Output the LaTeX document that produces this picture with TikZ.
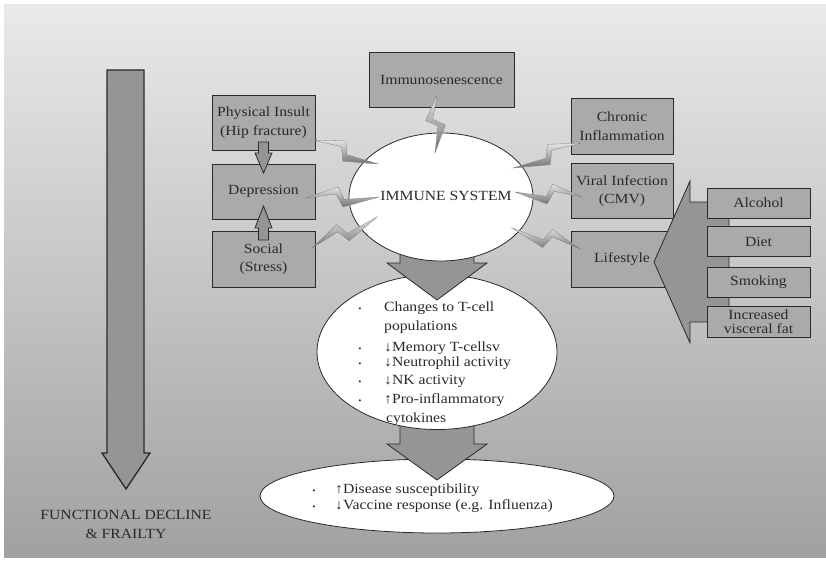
\documentclass[tikz,border=0pt]{standalone}
\usepackage{fontspec}
\setmainfont{Liberation Serif}[FakeStretch=1.12]
\usetikzlibrary{shapes.geometric,calc}
\definecolor{bgtop}{HTML}{E8E9EA}
\definecolor{bgbot}{HTML}{A0A1A3}
\definecolor{boxfill}{HTML}{A9AAAC}
\definecolor{arrfill}{HTML}{949597}
\definecolor{txt}{HTML}{2A2A2A}
\definecolor{edge}{HTML}{2A2A2A}
\newcommand{\fsz}{\fontsize{14}{18.5}\selectfont}
\newcommand{\zbolt}[4]{%
  \path[bolt] (#1) -- ($(#1)!0.45!(#2)!10.5pt!#3:(#2)$) -- ($(#1)!0.53!(#2)!2pt!#4:(#2)$) -- (#2) -- ($(#1)!0.51!(#2)!9.5pt!#4:(#2)$) -- ($(#1)!0.42!(#2)!3.5pt!#3:(#2)$) -- cycle;}
\tikzset{
  bolt/.style={draw=black!50, line width=0.3pt, top color=black!10, bottom color=black!55},
  box/.style={draw=edge, line width=0.8pt, fill=boxfill, inner sep=0pt, align=center, text=txt, font=\fsz},
  ell/.style={ellipse, draw=edge, line width=0.8pt, fill=white, inner sep=0pt},
  blk/.style={draw=edge, line width=0.8pt, fill=arrfill, line join=miter},
  lbl/.style={text=txt, font=\fsz, inner sep=0pt},
  item/.style={lbl, anchor=base west},
  dot/.style={text=txt, inner sep=0pt, anchor=base, font=\fontsize{8}{8}\selectfont},
}
\begin{document}
\begin{tikzpicture}[x=1pt,y=-1pt]
\useasboundingbox (0,0) rectangle (826,564);
\fill[white] (0,0) rectangle (826,564);
\shade[top color=bgtop, bottom color=bgbot] (4,5) rectangle (826,557);

% left big arrow
\path[blk, line width=1.3pt] (107,70) -- (144,70) -- (144,453) -- (150,453) -- (126,489) -- (102,453) -- (107,453) -- cycle;
\node[lbl, align=center, font=\fontsize{14}{19}\selectfont] (fd) at (126,524) {FUNCTIONAL DECLINE\\\& FRAILTY};

% boxes
\node[box, minimum width=145pt, minimum height=55pt] (isen) at (441.5,80) {Immunosenescence};
\node[box, minimum width=103pt, minimum height=55pt] (phys) at (263.5,122.5) {Physical Insult\\(Hip fracture)};
\node[box, minimum width=103pt, minimum height=55pt] (dep) at (263.5,191.5) {Depression};
\node[box, minimum width=103pt, minimum height=56pt] (soc) at (263.5,259) {Social\\(Stress)};
\node[box, minimum width=102pt, minimum height=56pt] (chron) at (622,126) {Chronic\\Inflammation};
\node[box, minimum width=102pt, minimum height=55pt] (vir) at (622,191) {Viral Infection\\(CMV)};
\node[box, minimum width=102pt, minimum height=56pt] (life) at (622,259) {Lifestyle};

% lifestyle arrow
\path[blk] (654,262) -- (690,181) -- (690,202) -- (729,202) -- (729,322) -- (690,322) -- (690,343) -- cycle;
\node[box, minimum width=103pt, minimum height=30pt] (alc) at (758.5,203) {Alcohol};
\node[box, minimum width=103pt, minimum height=30pt] (diet) at (758.5,241.5) {Diet};
\node[box, minimum width=103pt, minimum height=30pt] (smok) at (758.5,282) {Smoking};
\node[box, minimum width=103pt, minimum height=31pt, font=\fontsize{14}{14.5}\selectfont] (fat) at (758.5,321.5) {Increased\\visceral fat};

% small arrows
\path[blk] (258.5,142) -- (268.5,142) -- (268.5,153) -- (272,153) -- (263.5,173) -- (255,153) -- (258.5,153) -- cycle;
\path[blk] (258.5,240) -- (268.5,240) -- (268.5,228) -- (272,228) -- (263.5,206) -- (255,228) -- (258.5,228) -- cycle;

% ellipses and big down arrows
\node[ell, minimum width=354pt, minimum height=74pt] (dis) at (437,496) {};
\path[blk] (400,410) -- (400,444) -- (387,444) -- (437,480) -- (487,444) -- (474,444) -- (474,410) -- cycle;
\node[ell, minimum width=240pt, minimum height=155pt] (chg) at (437,352) {};
\path[blk] (400,240) -- (400,263) -- (387,263) -- (437,300) -- (487,263) -- (474,263) -- (474,240) -- cycle;
\node[ell, minimum width=184pt, minimum height=128pt] (imm) at (441,197) {};
\node[lbl] (immtxt) at (446,196) {IMMUNE SYSTEM};

% list in changes ellipse
\node[dot] (d1) at (360,311) {•};
\node[item] (c1) at (384,311) {Changes to T-cell};
\node[item] (c2) at (384,330) {populations};
\node[dot] (d3) at (360,351) {•};
\node[item] (c3) at (384,351) {↓Memory T-cellsv};
\node[dot] (d4) at (360,366) {•};
\node[item] (c4) at (384,366) {↓Neutrophil activity};
\node[dot] (d5) at (360,384) {•};
\node[item] (c5) at (384,384) {↓NK activity};
\node[dot] (d6) at (360,403) {•};
\node[item] (c6) at (384,403) {↑Pro-inflammatory};
\node[item] (c7) at (386,422) {cytokines};

% list in bottom ellipse
\node[dot] (e1) at (314,493) {•};
\node[item] (t1) at (335,493) {↑Disease susceptibility};
\node[dot] (e2) at (314,509) {•};
\node[item] (t2) at (335,509) {↓Vaccine response (e.g. Influenza)};

% bolts
\coordinate (b1s) at (437,95);  \coordinate (b1e) at (435,153);
\coordinate (b2s) at (313,140); \coordinate (b2e) at (378,164);
\coordinate (b3s) at (305,198); \coordinate (b3e) at (379,197);
\coordinate (b4s) at (312,248); \coordinate (b4e) at (377,217);
\coordinate (b5s) at (582,143); \coordinate (b5e) at (513,168);
\coordinate (b6s) at (582,197); \coordinate (b6e) at (515,192);
\coordinate (b7s) at (580,249); \coordinate (b7e) at (512,228);
\zbolt{b1s}{b1e}{-90}{90}
\zbolt{b2s}{b2e}{90}{-90}
\zbolt{b3s}{b3e}{90}{-90}
\zbolt{b4s}{b4e}{90}{-90}
\zbolt{b5s}{b5e}{-90}{90}
\zbolt{b6s}{b6e}{-90}{90}
\zbolt{b7s}{b7e}{-90}{90}
\end{tikzpicture}
\end{document}
